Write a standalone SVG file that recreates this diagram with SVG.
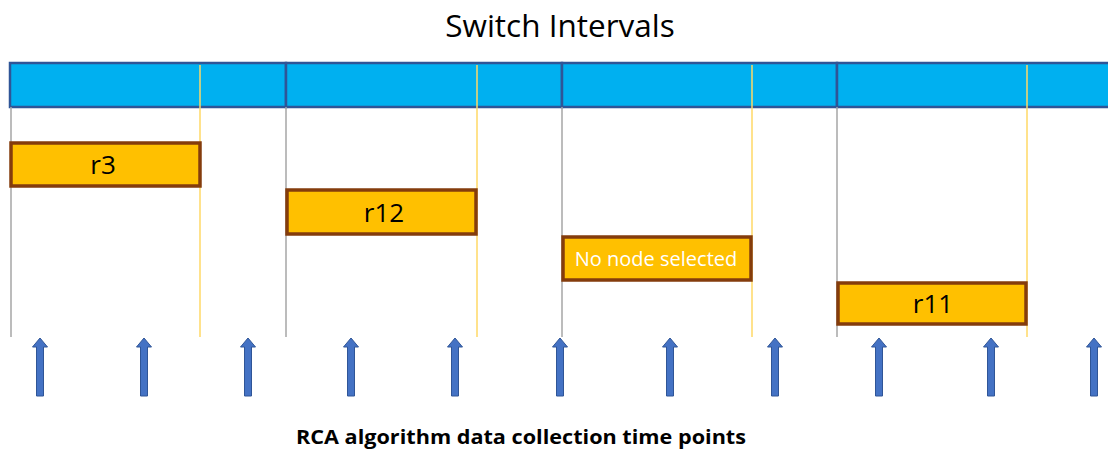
<svg xmlns="http://www.w3.org/2000/svg" width="1108" height="453" viewBox="0 0 1108 453">
<defs>
<style>
.bar{fill:#00B0F0;stroke:#2F5597;stroke-width:2.5}
.gl{stroke:#A6A6A6;stroke-width:1.5}
.yl{stroke:#FFD966;stroke-width:1.5}
.box{fill:#FFC000;stroke:#843C0C;stroke-width:3.5}
.lbl{font-family:"Open Sans","Noto Sans",sans-serif;font-size:26px;fill:#000;text-anchor:middle}
.arr{fill:#4472C4;stroke:#2F5597;stroke-width:1}
</style>
<path id="ar" class="arr" d="M-3.5,396 L-3.5,347 L-7.5,347 L0,338 L7.5,347 L3.5,347 L3.5,396 Z"/>
</defs>
<rect width="1108" height="453" fill="#fff"/>
<text x="560" y="37" font-family="'Open Sans','Noto Sans',sans-serif" font-size="31.5" text-anchor="middle" fill="#000">Switch Intervals</text>
<g id="bar">
<rect class="bar" x="10" y="63" width="276" height="44"/>
<rect class="bar" x="286" y="63" width="276" height="44"/>
<rect class="bar" x="562" y="63" width="275" height="44"/>
<rect class="bar" x="837" y="63" width="280" height="44"/>
</g>
<g id="connectors">
<line class="gl" x1="11" y1="107" x2="11" y2="337"/>
<line class="gl" x1="286" y1="107" x2="286" y2="337"/>
<line class="gl" x1="562" y1="107" x2="562" y2="337"/>
<line class="gl" x1="837" y1="107" x2="837" y2="337"/>
<line class="yl" x1="200" y1="65" x2="200" y2="337"/>
<line class="yl" x1="477" y1="65" x2="477" y2="337"/>
<line class="yl" x1="752" y1="65" x2="752" y2="337"/>
<line class="yl" x1="1027" y1="65" x2="1027" y2="337"/>
</g>
<g id="n-r3"><rect class="box" x="11" y="143" width="189" height="43"/><text class="lbl" x="103" y="174">r3</text></g>
<g id="n-r12"><rect class="box" x="287" y="190" width="189" height="44"/><text class="lbl" x="384" y="222">r12</text></g>
<g id="n-none"><rect class="box" x="563" y="237" width="188" height="43"/><text x="656" y="266" font-family="'Open Sans','Noto Sans',sans-serif" font-size="20" fill="#fff" text-anchor="middle">No node selected</text></g>
<g id="n-r11"><rect class="box" x="838" y="283" width="188" height="41"/><text class="lbl" x="933" y="313">r11</text></g>
<g id="arrows">
<use href="#ar" x="40"/>
<use href="#ar" x="144"/>
<use href="#ar" x="248"/>
<use href="#ar" x="351"/>
<use href="#ar" x="455"/>
<use href="#ar" x="560"/>
<use href="#ar" x="670"/>
<use href="#ar" x="775"/>
<use href="#ar" x="879"/>
<use href="#ar" x="991"/>
<use href="#ar" x="1094"/>
</g>
<text x="521" y="444" font-family="'Open Sans','Noto Sans',sans-serif" font-size="20" font-weight="bold" text-anchor="middle" fill="#000" textLength="450" lengthAdjust="spacingAndGlyphs">RCA algorithm data collection time points</text>
</svg>
